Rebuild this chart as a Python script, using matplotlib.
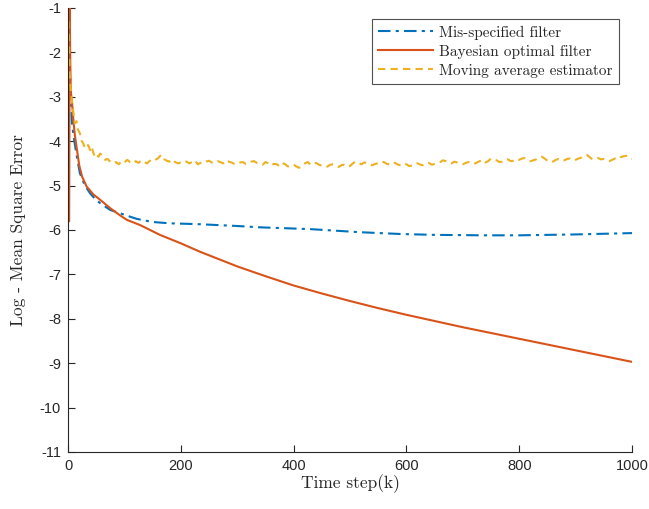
import matplotlib; matplotlib.use("Agg")
import matplotlib.pyplot as plt

plt.rcParams["axes.unicode_minus"] = False

BLUE = "#0072BD"; RED = "#D95319"; YEL = "#EDB120"; AXC = "#262626"

# Bayesian optimal filter (log MSE)
red_k = [2, 3, 4, 5, 7, 9, 12, 15, 20, 25, 33, 45, 57, 74, 90, 104, 128, 163, 200, 234,
         300, 350, 400, 450, 500, 550, 600, 650, 700, 750, 800, 850, 900, 950, 1000]
red_v = [-5.8, -1.0, -2.2, -2.9, -3.1, -3.45, -3.85, -4.12, -4.55, -4.8, -5.02, -5.2, -5.32, -5.5, -5.65, -5.77, -5.89, -6.11, -6.3, -6.49,
         -6.82, -7.04, -7.25, -7.43, -7.6, -7.76, -7.91, -8.05, -8.19, -8.32, -8.45, -8.58, -8.71, -8.84, -8.97]

# Mis-specified filter
blue_k = [1, 3, 5, 7, 10, 15, 21, 30, 39, 50, 62, 75, 92, 105, 122, 150, 181, 234, 300, 340,
          429, 518, 589, 650, 736, 800, 900, 1000]
blue_v = [-1.0, -2.3, -3.0, -3.6, -3.9, -4.3, -4.72, -5.0, -5.17, -5.33, -5.44, -5.55, -5.62, -5.68, -5.75, -5.82, -5.85, -5.87, -5.91, -5.94,
          -5.98, -6.05, -6.09, -6.11, -6.12, -6.12, -6.1, -6.07]

# Moving average estimator (early part, uneven steps)
yel_k0 = [1, 3, 5, 7, 9, 12, 15, 18, 21, 24, 27, 30, 33, 36, 39, 42, 45, 48, 51, 54, 57, 60, 63, 66,
          70, 75, 80, 85, 90, 95, 100, 105, 110, 115, 120, 125, 130, 135, 140, 145, 150, 155, 160,
          165, 170, 175, 180, 185, 190, 195]
yel_v0 = [-1.3, -2.5, -2.85, -3.1, -3.3, -3.6, -3.55, -3.75, -3.82, -3.99, -4.05, -4.16, -4.1, -4.09, -4.2, -4.12, -4.27, -4.35, -4.3, -4.35, -4.28, -4.31, -4.38, -4.42,
          -4.4, -4.46, -4.5, -4.47, -4.52, -4.45, -4.48, -4.42, -4.47, -4.5, -4.45, -4.49, -4.43, -4.47, -4.5, -4.44, -4.46, -4.42, -4.38,
          -4.31, -4.4, -4.44, -4.46, -4.41, -4.47, -4.5]
# Moving average estimator, k = 200, 205, ..., 1000 (one row per 100 steps)
yel_k1 = list(range(200, 1001, 5))
yel_v1 = [-4.48, -4.44, -4.46, -4.5, -4.47, -4.43, -4.52, -4.49, -4.5, -4.46, -4.44, -4.48, -4.49, -4.45, -4.47, -4.5, -4.43, -4.46, -4.48, -4.51,
          -4.52, -4.48, -4.47, -4.51, -4.5, -4.46, -4.45, -4.49, -4.5, -4.53, -4.47, -4.5, -4.55, -4.51, -4.52, -4.56, -4.49, -4.52, -4.57, -4.54,
          -4.53, -4.57, -4.6, -4.55, -4.5, -4.47, -4.53, -4.5, -4.49, -4.53, -4.55, -4.58, -4.57, -4.53, -4.52, -4.55, -4.58, -4.54, -4.53, -4.57,
          -4.56, -4.5, -4.46, -4.49, -4.52, -4.48, -4.49, -4.53, -4.54, -4.51, -4.5, -4.46, -4.47, -4.51, -4.52, -4.48, -4.49, -4.53, -4.54, -4.5,
          -4.52, -4.56, -4.55, -4.51, -4.5, -4.53, -4.54, -4.5, -4.49, -4.53, -4.51, -4.48, -4.47, -4.43, -4.45, -4.49, -4.5, -4.46, -4.48, -4.51,
          -4.52, -4.49, -4.47, -4.5, -4.51, -4.48, -4.45, -4.42, -4.48, -4.45, -4.39, -4.42, -4.43, -4.47, -4.46, -4.42, -4.41, -4.45, -4.44, -4.4,
          -4.42, -4.39, -4.38, -4.42, -4.45, -4.43, -4.41, -4.37, -4.35, -4.39, -4.44, -4.47, -4.46, -4.42, -4.4, -4.44, -4.43, -4.4, -4.39, -4.43,
          -4.42, -4.39, -4.37, -4.33, -4.31, -4.36, -4.41, -4.4, -4.38, -4.41, -4.4, -4.43, -4.45, -4.42, -4.39, -4.41, -4.36, -4.34, -4.33, -4.37,
          -4.4]
yel_k = yel_k0 + yel_k1
yel_v = yel_v0 + yel_v1

x_ticks = [0, 200, 400, 600, 800, 1000]
y_ticks = [-11, -10, -9, -8, -7, -6, -5, -4, -3, -2, -1]

fig = plt.figure(figsize=(6.49, 5.09), dpi=100)
ax = fig.add_axes([0.1048, 0.112, 0.869, 0.8723])

ax.plot(blue_k, blue_v, color=BLUE, lw=1.5, ls=(0, (6, 2.5, 1.5, 2.5)), label="Mis-specified filter")
ax.plot(red_k, red_v, color=RED, lw=1.5, ls="-", label="Bayesian optimal filter")
ax.plot(yel_k, yel_v, color=YEL, lw=1.5, ls=(0, (3.5, 2.5)), label="Moving average estimator")

ax.set_xlim(0, 1000); ax.set_ylim(-11, -1)
ax.set_xticks(x_ticks); ax.set_yticks(y_ticks)
for s in ("top", "right"):
    ax.spines[s].set_visible(False)
for s in ("left", "bottom"):
    ax.spines[s].set_color(AXC); ax.spines[s].set_linewidth(0.8)
ax.tick_params(direction="in", length=5, width=0.8, color=AXC, labelcolor=AXC, labelsize=10.5, pad=5)
for t in ax.get_xticklabels() + ax.get_yticklabels():
    t.set_fontfamily("Liberation Sans")

ax.set_xlabel("Time step(k)", fontfamily="cmr10", fontsize=12.5, color=AXC, labelpad=1)
ax.set_ylabel("Log - Mean Square Error", fontfamily="cmr10", fontsize=12.5, color=AXC, labelpad=10)

leg = ax.legend(loc="upper right", bbox_to_anchor=(0.985, 0.985), prop={"family": "cmr10", "size": 11},
                frameon=True, fancybox=False, handlelength=3.6, handletextpad=0.4, borderpad=0.4,
                labelspacing=0.33, borderaxespad=0.3)
leg.get_frame().set_edgecolor(AXC); leg.get_frame().set_linewidth(0.8)
for t in leg.get_texts():
    t.set_color(AXC)

plt.savefig("out.png", dpi=100)
